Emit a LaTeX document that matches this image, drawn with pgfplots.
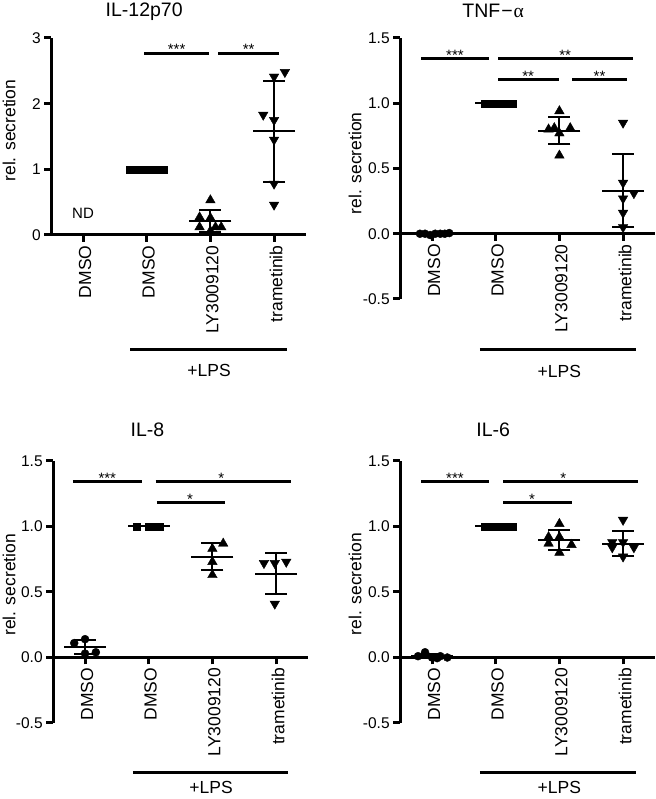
\documentclass[border=0pt]{standalone}
\usepackage{pgfplots}
\pgfplotsset{compat=1.18}
\usepackage{fontspec}
\setmainfont{Liberation Sans}
\newfontfamily\greekserif{Liberation Serif}

\pgfplotsset{
  panel/.style={
    scale only axis, width=254.7pt,
    anchor=south west,
    axis y line=left, axis x line=middle,
    axis line style={-, line width=3pt},
    every inner x axis line/.append style={-},
    every outer y axis line/.append style={-},
    hide obscured x ticks=false, hide obscured y ticks=false,
    xmin=-0.5, xmax=3.5,
    xtick={0,1,2,3},
    xticklabels={DMSO,DMSO,LY3009120,trametinib},
    xticklabel style={rotate=90, anchor=east, yshift=-2pt, font=\fontsize{17.5}{20}\selectfont},
    yticklabel style={font=\fontsize{15.5}{18}\selectfont},
    tick align=outside,
    major tick length=7pt,
    tick style={line width=3pt, black},
    clip=false,
    /pgf/number format/assume math mode=true,
    ylabel={rel. secretion},
    ylabel style={font=\fontsize{17.5}{20}\selectfont, anchor=center},
    title style={font=\fontsize{19.5}{22}\selectfont, anchor=base},
  },
  dmso/.style={only marks, mark=*, mark size=4pt, black},
  lps/.style={only marks, mark=square*, mark size=3.5pt, black},
  ly/.style={only marks, mark=triangle*, mark size=5.5pt, black},
  tra/.style={only marks, mark=triangle*, mark size=5.5pt, mark options={rotate=180}, black},
  mean/.style={only marks, mark=-, mark size=21pt, mark options={line width=2pt}, black},
  meansd/.style={mean,
    error bars/.cd, y dir=both, y explicit, error mark=|,
    error bar style={line width=2pt, black},
    error mark options={mark size=11pt, line width=2pt, black}},
}
\tikzset{sig/.style={line width=3pt, black}, star/.style={font=\fontsize{15}{16}\selectfont, anchor=base, inner sep=0pt},
  lpsl/.style={font=\fontsize{17.5}{20}\selectfont, anchor=base, inner sep=0pt}}

\begin{document}
\begin{tikzpicture}
\useasboundingbox (0,0) rectangle (655pt,799pt);

% ---------- IL-12p70 ----------
\begin{axis}[panel, at={(51.2pt,564pt)}, height=197pt,
  ymin=0, ymax=3, ytick={0,1,2,3}, yticklabels={0,1,2,3},
  title={IL-12p70}, title style={at={(axis description cs:0.365,1.08)}},
  ylabel style={at={(axis description cs:-0.165,0.53)}}]
\addplot[lps] coordinates {(0.74,1) (0.83,1) (0.91,1) (1.0,1) (1.09,1) (1.17,1) (1.26,1)};
\addplot[ly] coordinates {(2.0,0.53) (1.83,0.27) (2.0,0.26) (1.83,0.12) (2.08,0.12) (2.17,0.12) (2.0,0.06)};
\addplot[tra] coordinates {(3.0,2.41) (3.17,2.48) (2.83,1.83) (3.0,1.75) (3.0,1.45) (3.0,0.78) (3.0,0.46)};
\addplot[mean] coordinates {(1,1)};
\addplot[meansd] coordinates {(2,0.215) +- (0,0.165) (3,1.58) +- (0,0.77)};
\node[font=\fontsize{15}{16}\selectfont] at (axis cs:0,0.33) {ND};
\draw[sig] (axis cs:0.96,2.77) -- (axis cs:1.98,2.77);
\draw[sig] (axis cs:2.12,2.77) -- (axis cs:3.08,2.77);
\node[star] at (axis cs:1.47,2.755) {***};
\node[star] at (axis cs:2.6,2.755) {**};
\draw[sig] (axis cs:0.74,-1.75) -- (axis cs:3.2,-1.75);
\node[lpsl] at (axis cs:1.98,-2.16) {+LPS};
\end{axis}

% ---------- TNF-alpha ----------
\begin{axis}[panel, at={(400.2pt,500pt)}, height=261pt,
  ymin=-0.5, ymax=1.5, ytick={-0.5,0,0.5,1,1.5}, yticklabels={-0.5,0.0,0.5,1.0,1.5},
  title={TNF\kern1pt−\kern1pt{\greekserif α}}, title style={at={(axis description cs:0.365,1.054)}},
  ylabel style={at={(axis description cs:-0.177,0.52)}}]
\addplot[dmso] coordinates {(-0.19,0) (-0.11,0) (-0.03,-0.01) (0.05,0) (0.13,0) (0.2,0) (0.27,0.005)};
\addplot[lps] coordinates {(-0.17+1,1) (-0.08+1,1) (0.01+1,1) (0.1+1,1) (0.19+1,1) (0.27+1,1)};
\addplot[ly] coordinates {(2.0,0.94) (1.83,0.80) (1.92,0.81) (2.17,0.81) (2.0,0.77) (2.0,0.60)};
\addplot[tra] coordinates {(3.0,0.85) (3.0,0.39) (3.17,0.31) (3.0,0.27) (3.0,0.16) (3.0,0.05)};
\addplot[mean] coordinates {(0.05,0) (1,1)};
\addplot[meansd] coordinates {(2,0.79) +- (0,0.105) (3,0.33) +- (0,0.28)};
\draw[sig] (axis cs:-0.17,1.34) -- (axis cs:0.90,1.34);
\draw[sig] (axis cs:1.04,1.34) -- (axis cs:3.16,1.34);
\draw[sig] (axis cs:1.04,1.18) -- (axis cs:2.0,1.18);
\draw[sig] (axis cs:2.2,1.18) -- (axis cs:3.06,1.18);
\node[star] at (axis cs:0.36,1.33) {***};
\node[star] at (axis cs:2.09,1.33) {**};
\node[star] at (axis cs:1.51,1.17) {**};
\node[star] at (axis cs:2.63,1.17) {**};
\draw[sig] (axis cs:0.75,-0.89) -- (axis cs:3.2,-0.89);
\node[lpsl] at (axis cs:2.0,-1.10) {+LPS};
\end{axis}

% ---------- IL-8 ----------
\begin{axis}[panel, at={(53.2pt,76pt)}, height=262pt,
  ymin=-0.5, ymax=1.5, ytick={-0.5,0,0.5,1,1.5}, yticklabels={-0.5,0.0,0.5,1.0,1.5},
  title={IL-8}, title style={at={(axis description cs:0.37,1.069)}},
  ylabel style={at={(axis description cs:-0.173,0.527)}}]
\addplot[dmso] coordinates {(-0.17,0.11) (0,0.14) (0,0.03) (0.17,0.04)};
\addplot[lps] coordinates {(0.81,1) (1.0,1) (1.09,1) (1.18,1)};
\addplot[ly] coordinates {(2.17,0.87) (2.0,0.83) (2.0,0.73) (2.0,0.63)};
\addplot[tra] coordinates {(2.81,0.72) (2.98,0.72) (3.16,0.73) (2.98,0.41)};
\addplot[mean] coordinates {(1,1)};
\addplot[meansd] coordinates {(0,0.08) +- (0,0.055) (2,0.77) +- (0,0.105) (3,0.64) +- (0,0.155)};
\draw[sig] (axis cs:-0.19,1.34) -- (axis cs:0.89,1.34);
\draw[sig] (axis cs:1.11,1.34) -- (axis cs:3.23,1.34);
\draw[sig] (axis cs:1.13,1.18) -- (axis cs:2.2,1.18);
\node[star] at (axis cs:0.35,1.33) {***};
\node[star] at (axis cs:2.14,1.33) {*};
\node[star] at (axis cs:1.65,1.17) {*};
\draw[sig] (axis cs:0.75,-0.88) -- (axis cs:3.19,-0.88);
\node[lpsl] at (axis cs:1.98,-1.04) {+LPS};
\end{axis}

% ---------- IL-6 ----------
\begin{axis}[panel, at={(400.2pt,76pt)}, height=262pt,
  ymin=-0.5, ymax=1.5, ytick={-0.5,0,0.5,1,1.5}, yticklabels={-0.5,0.0,0.5,1.0,1.5},
  title={IL-6}, title style={at={(axis description cs:0.365,1.069)}},
  ylabel style={at={(axis description cs:-0.177,0.53)}}]
\addplot[dmso] coordinates {(-0.11,0.04) (-0.22,0.01) (0,0.0) (0.13,0.01) (0.24,0.0) (0.08,-0.005)};
\addplot[lps] coordinates {(0.83,1) (0.92,1) (1.01,1) (1.1,1) (1.19,1) (1.27,1)};
\addplot[ly] coordinates {(1.83,0.92) (1.83,0.87) (2.0,1.02) (2.0,0.92) (2.19,0.86) (2.0,0.80)};
\addplot[tra] coordinates {(3.0,1.05) (2.83,0.88) (3.0,0.88) (2.83,0.84) (3.17,0.84) (3.0,0.77)};
\addplot[mean] coordinates {(1,1)};
\addplot[meansd] coordinates {(0,0.01) +- (0,0.015) (2,0.895) +- (0,0.075) (3,0.87) +- (0,0.095)};
\draw[sig] (axis cs:-0.17,1.34) -- (axis cs:0.90,1.34);
\draw[sig] (axis cs:1.12,1.34) -- (axis cs:3.23,1.34);
\draw[sig] (axis cs:1.12,1.18) -- (axis cs:2.2,1.18);
\node[star] at (axis cs:0.36,1.33) {***};
\node[star] at (axis cs:2.06,1.33) {*};
\node[star] at (axis cs:1.57,1.17) {*};
\draw[sig] (axis cs:0.75,-0.88) -- (axis cs:3.2,-0.88);
\node[lpsl] at (axis cs:2.0,-1.04) {+LPS};
\end{axis}
\end{tikzpicture}
\end{document}
